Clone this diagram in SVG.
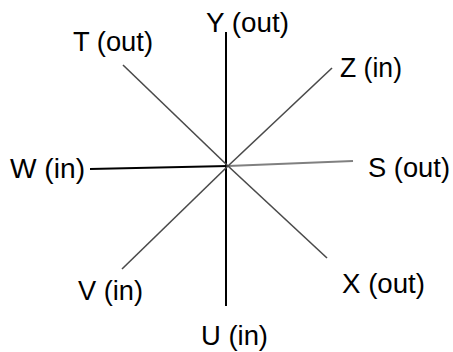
<svg xmlns="http://www.w3.org/2000/svg" width="453" height="352" viewBox="0 0 453 352">
<style>
.lbl{font-family:"Liberation Sans",Arial,sans-serif;font-size:27px;fill:#000}
.diag{stroke:#4a4a4a;stroke-width:1.6;fill:none}
.axis{stroke:#000;stroke-width:2;fill:none}
</style>
<rect width="453" height="352" fill="#fff"/>
<g id="connectors">
<line class="axis" x1="226" y1="32" x2="226" y2="306"/>
<line class="axis" x1="90" y1="169" x2="228" y2="166"/>
<line x1="228" y1="166" x2="353" y2="161" stroke="#808080" stroke-width="2"/>
<line class="diag" x1="123" y1="65" x2="228" y2="166"/>
<line class="diag" x1="332" y1="68" x2="228" y2="166"/>
<line class="diag" x1="327" y1="258" x2="228" y2="166"/>
<line class="diag" x1="122" y1="269" x2="228" y2="166"/>
</g>
<g id="node-Y"><text class="lbl" x="206" y="32" textLength="83" lengthAdjust="spacingAndGlyphs">Y (out)</text></g>
<g id="node-T"><text class="lbl" x="73" y="51" textLength="80" lengthAdjust="spacingAndGlyphs">T (out)</text></g>
<g id="node-Z"><text class="lbl" x="340" y="77" textLength="62" lengthAdjust="spacingAndGlyphs">Z (in)</text></g>
<g id="node-W"><text class="lbl" x="10" y="178" textLength="75" lengthAdjust="spacingAndGlyphs">W (in)</text></g>
<g id="node-S"><text class="lbl" x="368" y="177" textLength="82" lengthAdjust="spacingAndGlyphs">S (out)</text></g>
<g id="node-V"><text class="lbl" x="78" y="300" textLength="65" lengthAdjust="spacingAndGlyphs">V (in)</text></g>
<g id="node-X"><text class="lbl" x="342" y="293" textLength="83" lengthAdjust="spacingAndGlyphs">X (out)</text></g>
<g id="node-U"><text class="lbl" x="201" y="345" textLength="67" lengthAdjust="spacingAndGlyphs">U (in)</text></g>
</svg>
